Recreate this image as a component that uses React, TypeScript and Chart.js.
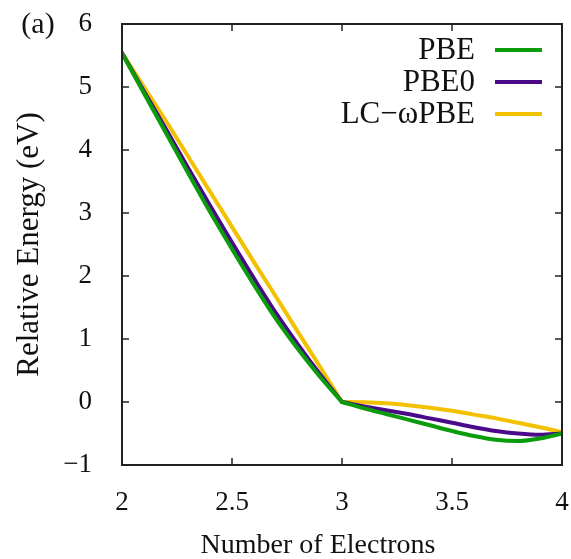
import React, { useEffect, useRef } from "react";
import { Chart, registerables } from "chart.js";

Chart.register(...registerables);

const electrons = [2.0, 2.1, 2.2, 2.3, 2.4, 2.5, 2.6, 2.7, 2.8, 2.9, 3.0, 3.1, 3.2, 3.3, 3.4, 3.5, 3.6, 3.7, 3.8, 3.9, 4.0];
const pbe = [5.54, 4.9, 4.27, 3.64, 3.02, 2.43, 1.86, 1.32, 0.84, 0.4, 0.0, -0.1, -0.19, -0.28, -0.37, -0.46, -0.54, -0.6, -0.62, -0.58, -0.5];
const pbe0 = [5.54, 4.93, 4.33, 3.72, 3.12, 2.53, 1.96, 1.41, 0.91, 0.44, 0.0, -0.07, -0.13, -0.19, -0.26, -0.33, -0.4, -0.46, -0.5, -0.52, -0.5];
const lcwpbe = [5.54, 5.0, 4.46, 3.9, 3.34, 2.78, 2.22, 1.67, 1.11, 0.56, 0.0, -0.005, -0.02, -0.05, -0.09, -0.14, -0.2, -0.26, -0.33, -0.4, -0.48];
const integerElectrons = 3;
const seriesNames = ["PBE", "PBE0", "LC\u2212\u03c9PBE"];
const seriesColors = ["#0b9c0b", "#4a0a8a", "#f2c200"];
const xTickValues = [2, 2.5, 3, 3.5, 4];
const yTickValues = [-1, 0, 1, 2, 3, 4, 5, 6];
const xTitle = "Number of Electrons";
const yTitle = "Relative Energy (eV)";
const panelLabel = "(a)";

const FONT = "'Liberation Serif', 'DejaVu Serif', serif";
const FS = 27;

const framePlugin = {
  id: "framePlugin",
  afterDatasetsDraw(chart: any) {
    const { ctx, chartArea } = chart;
    const { left, right, top, bottom } = chartArea;
    const xs = chart.scales.x;
    const ys = chart.scales.y;
    ctx.save();
    ctx.strokeStyle = "#222";
    ctx.lineWidth = 2;
    ctx.beginPath();
    ctx.rect(left, top, right - left, bottom - top);
    ctx.stroke();
    ctx.lineWidth = 1.5;
    const tl = 7;
    ctx.beginPath();
    xTickValues.forEach((v) => {
      const px = xs.getPixelForValue(v);
      ctx.moveTo(px, bottom);
      ctx.lineTo(px, bottom - tl);
      ctx.moveTo(px, top);
      ctx.lineTo(px, top + tl);
    });
    yTickValues.forEach((v) => {
      const py = ys.getPixelForValue(v);
      ctx.moveTo(left, py);
      ctx.lineTo(left + tl, py);
      ctx.moveTo(right, py);
      ctx.lineTo(right - tl, py);
    });
    ctx.stroke();
    ctx.restore();
  },
  afterDraw(chart: any) {
    const { ctx, chartArea } = chart;
    ctx.save();
    ctx.fillStyle = "#111";
    // legend
    ctx.font = `31px ${FONT}`;
    const legendRight = chartArea.right - 87;
    const rows = [50, 82, 114];
    seriesNames.forEach((name, i) => {
      ctx.textAlign = "right";
      ctx.textBaseline = "middle";
      ctx.fillStyle = "#111";
      ctx.fillText(name, legendRight, rows[i] + 1);
      ctx.strokeStyle = seriesColors[i];
      ctx.lineWidth = 4;
      ctx.beginPath();
      ctx.moveTo(legendRight + 20, rows[i]);
      ctx.lineTo(legendRight + 67, rows[i]);
      ctx.stroke();
    });
    // x title
    ctx.font = `28px ${FONT}`;
    ctx.fillStyle = "#111";
    ctx.textAlign = "center";
    ctx.textBaseline = "middle";
    ctx.fillText(xTitle, 318, 546);
    // y title
    ctx.font = `31px ${FONT}`;
    ctx.save();
    ctx.translate(30, (chartArea.top + chartArea.bottom) / 2);
    ctx.rotate(-Math.PI / 2);
    ctx.fillText(yTitle, 0, 0);
    ctx.restore();
    // panel label
    ctx.font = `30px ${FONT}`;
    ctx.textAlign = "center";
    ctx.fillText(panelLabel, 38, 25);
    ctx.restore();
  },
};

export default function App() {
  const ref = useRef<HTMLCanvasElement>(null);
  useEffect(() => {
    if (!ref.current) return;
    const pts = (vals: number[]) => electrons.map((x, i) => ({ x, y: vals[i] }));
    const branches = (vals: number[], i: number) => {
      const all = pts(vals);
      const common = {
        label: seriesNames[i],
        borderColor: seriesColors[i],
        borderWidth: 4,
        pointRadius: 0,
        fill: false,
        cubicInterpolationMode: "monotone" as const,
        borderJoinStyle: "round" as const,
        borderCapStyle: "round" as const,
      };
      return [
        { ...common, data: all.filter((p) => p.x <= integerElectrons + 1e-9) },
        { ...common, data: all.filter((p) => p.x >= integerElectrons - 1e-9) },
      ];
    };
    const chart = new Chart(ref.current, {
      type: "line",
      data: {
        datasets: [...branches(pbe, 0), ...branches(pbe0, 1), ...branches(lcwpbe, 2)],
      },
      options: {
        responsive: false,
        animation: false,
        layout: { padding: { top: 24, right: 9, left: 0, bottom: 0 } },
        plugins: { legend: { display: false }, tooltip: { enabled: false } },
        scales: {
          x: {
            type: "linear",
            min: 2,
            max: 4,
            afterBuildTicks: (s: any) => {
              s.ticks = xTickValues.map((v) => ({ value: v }));
            },
            afterFit: (s: any) => {
              s.height = 94;
              s.paddingLeft = 0;
              s.paddingRight = 0;
              s.paddingTop = 0;
              s.paddingBottom = 0;
            },
            grid: { display: false },
            border: { display: false },
            ticks: {
              color: "#111",
              font: { family: FONT, size: FS },
              padding: 14,
              maxRotation: 0,
              callback: (v: any) => String(v),
            },
          },
          y: {
            type: "linear",
            min: -1,
            max: 6,
            afterBuildTicks: (s: any) => {
              s.ticks = yTickValues.map((v) => ({ value: v }));
            },
            afterFit: (s: any) => {
              s.width = 122;
              s.paddingLeft = 0;
              s.paddingRight = 0;
              s.paddingTop = 0;
              s.paddingBottom = 0;
            },
            grid: { display: false },
            border: { display: false },
            ticks: {
              color: "#111",
              font: { family: FONT, size: FS },
              padding: 22,
              callback: (v: any) => String(v).replace("-", "\u2212"),
            },
          },
        },
      },
      plugins: [framePlugin],
    });
    return () => chart.destroy();
  }, []);
  return (
    <div style={{ position: "absolute", left: 0, top: 0, width: 571, height: 559, background: "#fff" }}>
      <canvas ref={ref} width={571} height={559} style={{ display: "block" }} />
    </div>
  );
}
